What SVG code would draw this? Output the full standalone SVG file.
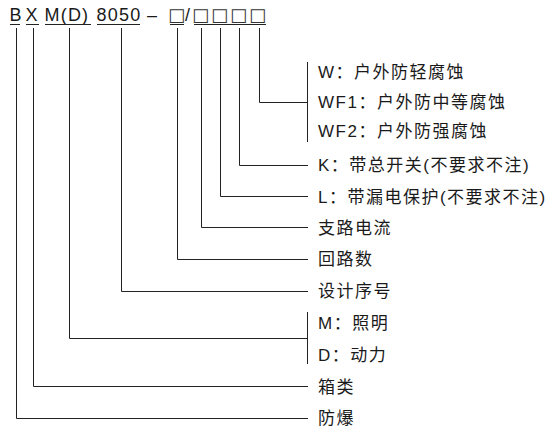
<svg xmlns="http://www.w3.org/2000/svg" width="552" height="442" viewBox="0 0 552 442">
<style>
text{font-family:"Liberation Sans","Noto Sans CJK SC",sans-serif;font-size:17px;letter-spacing:1.5px;fill:#1a1a1a}
.top{font-size:18px;letter-spacing:1.2px}
.box{font-family:"DejaVu Sans",sans-serif;font-size:18px;letter-spacing:0;fill:#333}
.ln{stroke:#222;stroke-width:1;fill:none}
</style>
<rect width="552" height="442" fill="#fff"/>
<g id="code">
<text class="top" x="9.5" y="21">B</text>
<text class="top" x="25.5" y="21">X</text>
<text class="top" x="44.5" y="21">M(D)</text>
<text class="top" x="96.5" y="21">8050</text>
<text class="top" x="147" y="21">–</text>
<text class="box" x="168" y="21">□</text>
<text class="top" x="185" y="21">/</text>
<text class="box" x="192" y="21">□</text>
<text class="box" x="211" y="21">□</text>
<text class="box" x="230" y="21">□</text>
<text class="box" x="249" y="21">□</text>
<path class="ln" d="M10 24.5H20M26 24.5H39M45 24.5H91M97 24.5H140M170 24.5H184M194 24.5H266"/>
</g>
<g id="connectors">
<path class="ln" d="M16.5 28V418.5H308"/>
<path class="ln" d="M33.5 28V386.5H308"/>
<path class="ln" d="M69.5 28V338.5H307.5M307.5 312V364"/>
<path class="ln" d="M121.5 28V291.5H308"/>
<path class="ln" d="M177.5 28V259.5H308"/>
<path class="ln" d="M201.5 28V227.5H308"/>
<path class="ln" d="M220.5 28V196.5H308"/>
<path class="ln" d="M239.5 28V165.5H308"/>
<path class="ln" d="M259.5 28V102.5H307.5M307.5 62V142"/>
</g>
<g id="n-w"><text x="318" y="78">W：户外防轻腐蚀</text></g>
<g id="n-wf1"><text x="318" y="107.5">WF1：户外防中等腐蚀</text></g>
<g id="n-wf2"><text x="318" y="136.5">WF2：户外防强腐蚀</text></g>
<g id="n-k"><text x="318" y="171">K：带总开关(不要求不注)</text></g>
<g id="n-l"><text x="318" y="202.5">L：带漏电保护(不要求不注)</text></g>
<g id="n-branch"><text x="318" y="233.5">支路电流</text></g>
<g id="n-loops"><text x="318" y="265">回路数</text></g>
<g id="n-design"><text x="318" y="297">设计序号</text></g>
<g id="n-m"><text x="318" y="329">M：照明</text></g>
<g id="n-d"><text x="318" y="360.5">D：动力</text></g>
<g id="n-box"><text x="318" y="392.5">箱类</text></g>
<g id="n-ex"><text x="318" y="424">防爆</text></g>
</svg>
